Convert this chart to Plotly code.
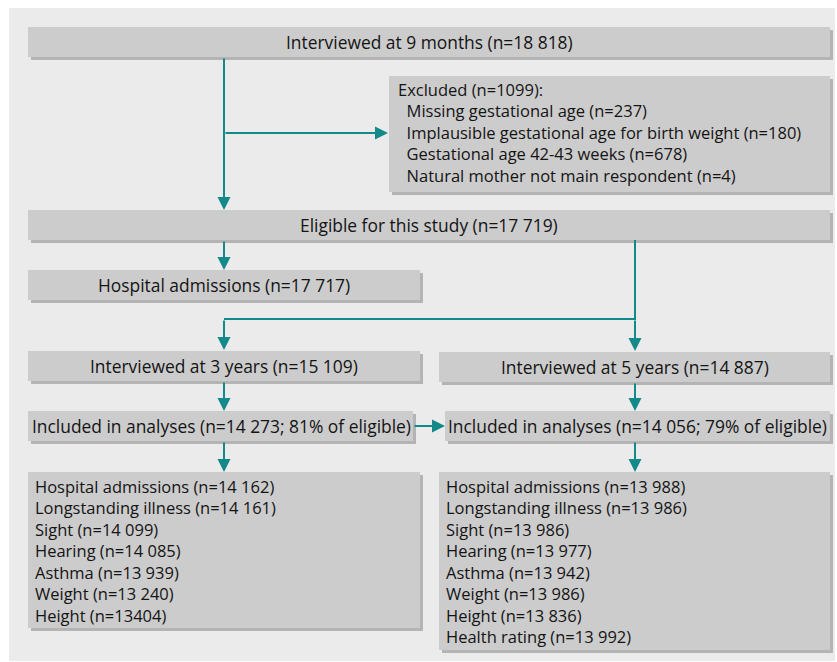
import plotly.graph_objects as go

# ---- data ----
n_9months = "18 818"
n_excluded = "1099"
excluded_reasons = ["Missing gestational age", "Implausible gestational age for birth weight",
                    "Gestational age 42-43 weeks", "Natural mother not main respondent"]
excluded_counts = ["237", "180", "678", "4"]
n_eligible = "17 719"
n_hosp_all = "17 717"
n_3y = "15 109"
n_5y = "14 887"
n_incl_3y = "14 273"
pct_incl_3y = "81%"
n_incl_5y = "14 056"
pct_incl_5y = "79%"
outcomes_3y = ["Hospital admissions", "Longstanding illness", "Sight", "Hearing", "Asthma", "Weight", "Height"]
counts_3y = ["14 162", "14 161", "14 099", "14 085", "13 939", "13 240", "13404"]
outcomes_5y = ["Hospital admissions", "Longstanding illness", "Sight", "Hearing", "Asthma", "Weight", "Height", "Health rating"]
counts_5y = ["13 988", "13 986", "13 986", "13 977", "13 942", "13 986", "13 836", "13 992"]

W, H = 837, 662
FONT = "Open Sans"
FS = 17.4      # single-line boxes
FS_LIST = 16.5  # multi-line boxes (plotly line spacing = 1.3 * size)
TEAL = "#13898a"
BOX = "#cccccc"
SHADOW = "#b4b4b4"
TXT = "#141414"

fig = go.Figure()
shapes = []
annotations = []

# panel
shapes.append(dict(type="rect", x0=9, y0=8, x1=835, y1=661, fillcolor="#ebebeb", line=dict(width=0), layer="below"))


def box(x0, y0, x1, y1):
    shapes.append(dict(type="rect", x0=x0 + 3, y0=y0 + 3, x1=x1 + 3, y1=y1 + 3,
                       fillcolor=SHADOW, line=dict(width=0), layer="below"))
    shapes.append(dict(type="rect", x0=x0, y0=y0, x1=x1, y1=y1,
                       fillcolor=BOX, line=dict(width=0), layer="below"))


def text(x, y, s, anchor="center", size=FS):
    annotations.append(dict(x=x, y=y, text=s, showarrow=False, xanchor=anchor, yanchor="middle",
                            align="left", font=dict(family=FONT, size=size, color=TXT)))


def line(x0, y0, x1, y1):
    shapes.append(dict(type="line", x0=x0, y0=y0, x1=x1, y1=y1, line=dict(color=TEAL, width=2)))


def arrow(x0, y0, x1, y1):
    annotations.append(dict(x=x1, y=y1, ax=x0, ay=y0, xref="x", yref="y", axref="x", ayref="y",
                            showarrow=True, arrowhead=2, arrowsize=1.3, arrowwidth=2,
                            arrowcolor=TEAL, standoff=0, text=""))


LS = 1.3 * FS_LIST

# boxes
box(28, 27, 830, 57)
text(429, 42, f"Interviewed at 9 months (n={n_9months})")

box(389, 76, 830, 192)
ex_lines = [f"Excluded (n={n_excluded}):"] + ["\u00a0\u00a0" + f"{r} (n={c})" for r, c in zip(excluded_reasons, excluded_counts)]
text(396, 90 + 2 * 21.3, "<br>".join(ex_lines), "left", FS_LIST)

box(28, 210, 830, 240)
text(429, 225, f"Eligible for this study (n={n_eligible})")

box(28, 270, 420, 300)
text(224, 285, f"Hospital admissions (n={n_hosp_all})")

box(28, 351, 420, 381)
text(224, 366, f"Interviewed at 3 years (n={n_3y})")
box(439, 352, 830, 382)
text(635, 367, f"Interviewed at 5 years (n={n_5y})")

box(28, 411, 413, 441)
text(221, 426, f"Included in analyses (n={n_incl_3y}; {pct_incl_3y} of eligible)")
box(445, 411, 830, 441)
text(637, 426, f"Included in analyses (n={n_incl_5y}; {pct_incl_5y} of eligible)")

box(28, 472, 420, 628)
text(33, 487 + 3 * 21.3, "<br>".join(f"{o} (n={c})" for o, c in zip(outcomes_3y, counts_3y)), "left", FS_LIST)
box(439, 472, 830, 650)
text(444, 487 + 3.5 * 21.3, "<br>".join(f"{o} (n={c})" for o, c in zip(outcomes_5y, counts_5y)), "left", FS_LIST)

# connectors
arrow(224, 57, 224, 210)
arrow(224, 133, 388, 133)
arrow(224, 240, 224, 270)
line(635, 240, 635, 320)
arrow(635, 319, 635, 351)
line(224, 319, 635, 319)
arrow(224, 319, 224, 350)
arrow(224, 381, 224, 411)
arrow(635, 382, 635, 411)
arrow(413, 426, 445, 426)
arrow(224, 441, 224, 472)
arrow(635, 441, 635, 472)

fig.update_layout(
    width=W, height=H, margin=dict(l=0, r=0, t=0, b=0),
    paper_bgcolor="white", plot_bgcolor="white",
    xaxis=dict(range=[0, W], visible=False, fixedrange=True),
    yaxis=dict(range=[H, 0], visible=False, fixedrange=True),
    shapes=shapes, annotations=annotations, showlegend=False,
)
fig.write_html("out.html", config={"displayModeBar": False},
               post_script="document.body.style.margin='0px';")
